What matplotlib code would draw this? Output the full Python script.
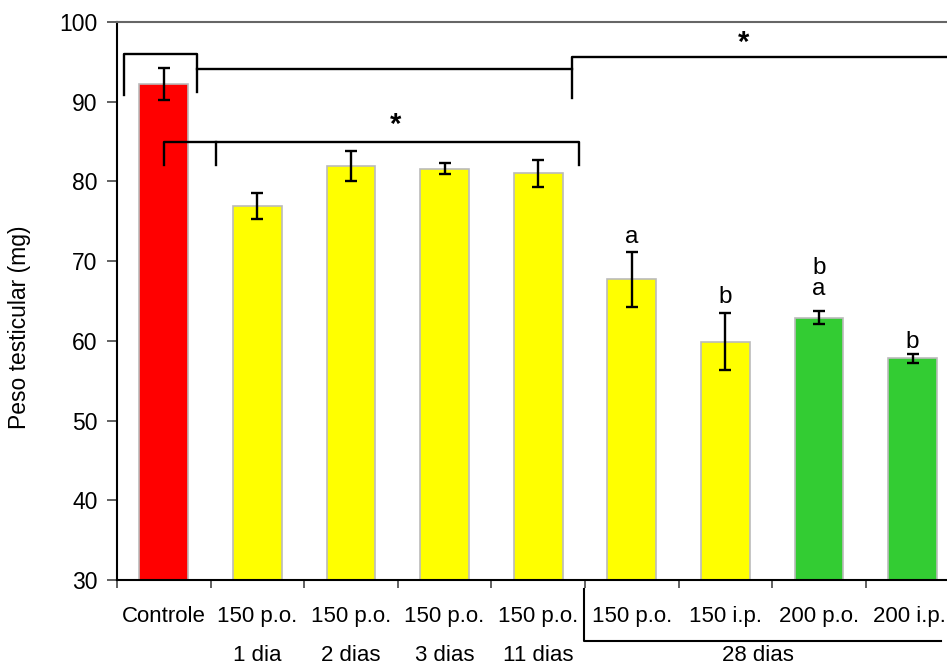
import matplotlib.pyplot as plt

plt.rcParams['font.family'] = ['Liberation Sans', 'DejaVu Sans']

groups = ["Controle", "150 p.o.", "150 p.o.", "150 p.o.", "150 p.o.",
          "150 p.o.", "150 i.p.", "200 p.o.", "200 i.p."]
periods = ["", "1 dia", "2 dias", "3 dias", "11 dias"]
means = [92.2, 76.9, 81.9, 81.6, 81.0, 67.7, 59.9, 62.9, 57.8]
errors = [2.0, 1.6, 1.9, 0.7, 1.7, 3.5, 3.6, 0.8, 0.6]
colors = ['#FF0000', '#FFFF00', '#FFFF00', '#FFFF00', '#FFFF00',
          '#FFFF00', '#FFFF00', '#33CC33', '#33CC33']
letters = {5: ["a"], 6: ["b"], 7: ["a", "b"], 8: ["b"]}
letter_y = {5: [73.0], 6: [65.5], 7: [66.5, 69.1], 8: [59.9]}

fig = plt.figure(figsize=(9.47, 6.67), dpi=100)
ax = fig.add_axes([0.1235, 0.1304, 0.8896, 0.8366])

x = list(range(len(means)))
ax.bar(x, means, width=0.52, color=colors, edgecolor='#BBBBBB', linewidth=1.2,
       zorder=2)
ax.errorbar(x, means, yerr=errors, fmt='none', ecolor='black', elinewidth=1.7,
            capsize=4.6, capthick=1.7, zorder=3)

ax.set_xlim(-0.5, 8.5)
ax.set_ylim(30, 100)
ax.set_yticks(range(30, 101, 10))
ax.tick_params(axis='y', labelsize=16.5, length=7, width=1.3, color='#555555', pad=7)
ax.set_xticks([i - 0.5 for i in range(10)])
ax.set_xticklabels([])
ax.tick_params(axis='x', length=6, width=1.3, color='#555555')
ax.spines['top'].set_color('#666666')
ax.spines['top'].set_linewidth(1.5)
ax.spines['right'].set_visible(False)
ax.spines['left'].set_linewidth(1.5)
ax.spines['bottom'].set_linewidth(1.5)
ax.set_ylabel('Peso testicular (mg)', fontsize=16.5, labelpad=20)
ax.yaxis.label.set_y(0.453)

# category labels
tr = ax.get_xaxis_transform()
fs = 16
for i, g in enumerate(groups[:-1]):
    ax.text(i, -0.065, g, transform=tr, ha='center', va='center', fontsize=fs, clip_on=False)
ax.text(7.97, -0.065, groups[-1], transform=tr, ha='center', va='center', fontsize=fs, clip_on=False)
for i, p in enumerate(periods):
    if p:
        ax.text(i, -0.136, p, transform=tr, ha='center', va='center', fontsize=fs, clip_on=False)
ax.text(6.35, -0.136, "28 dias", transform=tr, ha='center', va='center', fontsize=fs, clip_on=False)
ax.plot([4.49, 4.49, 8.3], [-0.016, -0.11, -0.11], transform=tr, color='black', lw=1.5, clip_on=False)

# letters
for i, ls in letters.items():
    for l, yy in zip(ls, letter_y[i]):
        ax.text(i, yy, l, ha='center', va='center', fontsize=17.5)

# significance brackets
kw = dict(color='black', lw=1.7, clip_on=False, zorder=4)
ax.plot([-0.425, -0.425, 0.355, 0.355], [90.8, 96.0, 96.0, 91.2], **kw)
ax.plot([0.355, 4.36], [94.1, 94.1], **kw)
ax.plot([4.36, 4.36, 8.6], [90.5, 95.6, 95.6], **kw)
ax.text(6.19, 97.4, '*', ha='center', va='center', fontsize=21, fontweight='bold')

ax.plot([0.0, 0.0, 4.44, 4.44], [82.1, 84.95, 84.95, 82.1], **kw)
ax.plot([0.56, 0.56], [84.95, 82.1], **kw)
ax.text(2.48, 87.1, '*', ha='center', va='center', fontsize=21, fontweight='bold')

fig.savefig('out.png', dpi=100)
